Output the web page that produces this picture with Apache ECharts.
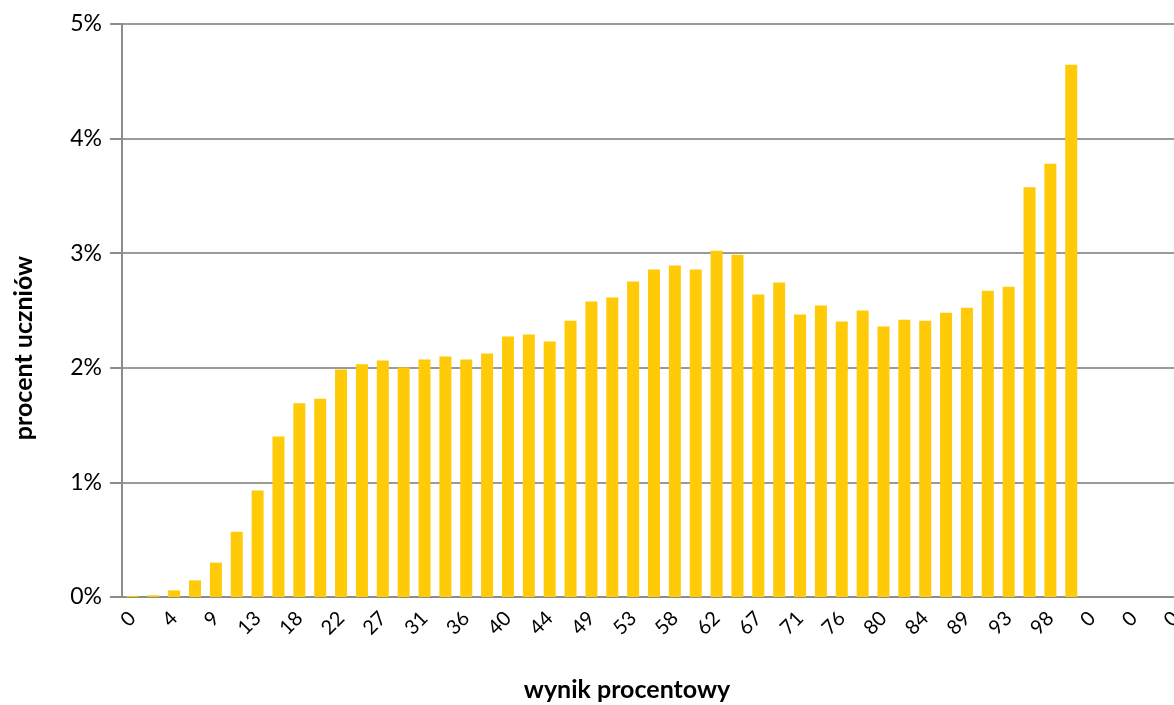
<!DOCTYPE html>
<html>
<head>
<meta charset="utf-8">
<script src="https://cdn.jsdelivr.net/npm/echarts@6/dist/echarts.min.js"></script>
<style>
    html, body { margin: 0; padding: 0; background: #fff; }
    #chart { width: 1174px; height: 705px; }
</style>
</head>
<body>
<div id="chart"></div>
<script>
    // wynik procentowy (kategorie osi X)
    var categories = ['0', '2', '4', '7', '9', '11', '13', '16', '18', '20', '22', '24', '27', '29', '31', '33',
        '36', '38', '40', '42', '44', '47', '49', '51', '53', '56', '58', '60', '62', '64', '67', '69',
        '71', '73', '76', '78', '80', '82', '84', '87', '89', '91', '93', '96', '98', '100',
        '0', '0', '0', '0', '0'];

    // procent uczniów
    var values = [0.01, 0.015, 0.058, 0.145, 0.30, 0.57, 0.93, 1.40, 1.69, 1.73,
        1.985, 2.03, 2.064, 2.003, 2.072, 2.098, 2.072, 2.124, 2.273, 2.29,
        2.23, 2.41, 2.578, 2.613, 2.752, 2.857, 2.892, 2.857, 3.022, 2.987,
        2.64, 2.744, 2.465, 2.543, 2.404, 2.50, 2.36, 2.42, 2.41, 2.48,
        2.525, 2.673, 2.708, 3.575, 3.78, 4.644,
        '-', '-', '-', '-', '-'];

    var yTicks = { min: 0, max: 5, interval: 1 };

    var chart = echarts.init(document.getElementById('chart'));

    var option = {
        animation: false,
        grid: {
            left: 122,
            top: 24,
            width: 1064,
            height: 573,
            containLabel: false,
            outerBoundsMode: 'none'
        },
        xAxis: {
            type: 'category',
            data: categories,
            axisLine: { lineStyle: { color: '#8c8c8c', width: 2 } },
            axisTick: { show: false },
            axisLabel: {
                interval: 1,
                rotate: 45,
                margin: 18,
                color: '#000',
                fontFamily: 'Lato',
                fontSize: 20
            }
        },
        yAxis: {
            type: 'value',
            min: yTicks.min,
            max: yTicks.max,
            interval: yTicks.interval,
            axisLine: { show: true, lineStyle: { color: '#8c8c8c', width: 2 } },
            axisTick: { show: true, length: 12, lineStyle: { color: '#8c8c8c', width: 2 } },
            splitLine: { lineStyle: { color: '#9a9a9a', width: 2 } },
            axisLabel: {
                formatter: '{value}%',
                margin: 20,
                color: '#000',
                fontFamily: 'Lato',
                fontSize: 23
            }
        },
        series: [{
            type: 'bar',
            data: values,
            barWidth: 12,
            itemStyle: { color: '#ffca08' }
        }],
        graphic: [{
            type: 'text',
            x: 627,
            y: 690,
            style: {
                text: 'wynik procentowy',
                fontFamily: 'Lato',
                fontWeight: 'bold',
                fontSize: 25,
                fill: '#000',
                align: 'center',
                verticalAlign: 'middle'
            }
        }, {
            type: 'text',
            x: 24,
            y: 348,
            rotation: Math.PI / 2,
            style: {
                text: 'procent uczniów',
                fontFamily: 'Lato',
                fontWeight: 'bold',
                fontSize: 25,
                fill: '#000',
                align: 'center',
                verticalAlign: 'middle'
            }
        }]
    };

    chart.setOption(option);
    window.onresize = chart.resize;
</script>
</body>
</html>
